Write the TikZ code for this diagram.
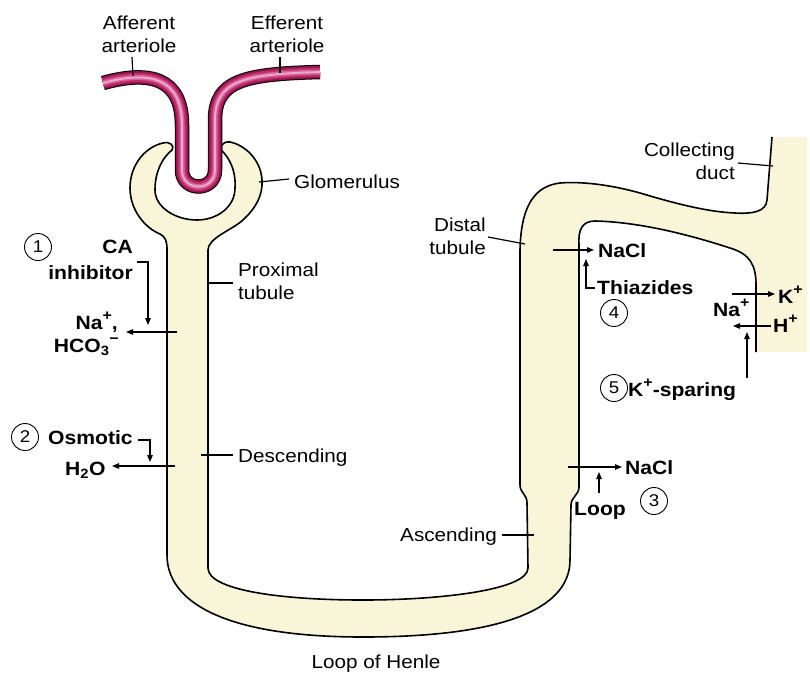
\documentclass[tikz,border=0pt]{standalone}
\usepackage{fontspec}
\setmainfont[FakeStretch=1.1]{Liberation Sans}
\usetikzlibrary{arrows.meta}
\definecolor{tubefill}{RGB}{249,245,217}
\definecolor{artA}{RGB}{150,20,75}
\definecolor{artB}{RGB}{190,45,110}
\definecolor{artC}{RGB}{215,100,155}
\definecolor{artD}{RGB}{236,170,204}

% ion charges set a little larger than \textsuperscript
\newcommand{\ionch}[1]{\raisebox{0.42em}{\fontsize{14.5}{14.5}\selectfont #1}}

% outline of the nephron wall, from the collecting duct round to its inner edge
\def\nephron{(772,137) -- (767,200)
 .. controls (766,212) and (752,214) .. (735,213)
 .. controls (710,212) and (680,205) .. (640,193)
 .. controls (615,186) and (585,181) .. (560,183)
 .. controls (535,186) and (521,205) .. (520,250)
 -- (520,485)
 .. controls (520,493) and (527,494) .. (527,503)
 -- (528,568)
 .. controls (528,590) and (440,600) .. (363,600)
 .. controls (280,600) and (208,590) .. (208,568)
 -- (208,250)
 .. controls (208,238) and (232,230) .. (243,220)
 .. controls (256,208) and (263,195) .. (262,180)
 .. controls (261,160) and (245,145) .. (230,142)
 .. controls (222,141) and (218,148) .. (224,153)
 .. controls (232,162) and (236,175) .. (235,188)
 .. controls (235,207) and (217,220) .. (197,220)
 .. controls (175,220) and (155,207) .. (155,190)
 .. controls (155,172) and (162,158) .. (172,150)
 .. controls (175,146) and (170,141) .. (163,143)
 .. controls (145,147) and (130,165) .. (130,188)
 .. controls (130,210) and (145,228) .. (160,234)
 .. controls (166,237) and (167,242) .. (167,250)
 -- (167,555)
 .. controls (167,600) and (220,637) .. (363,637)
 .. controls (500,637) and (570,610) .. (570,560)
 -- (571,505)
 .. controls (571,497) and (579,495) .. (579,487)
 -- (579,245)
 .. controls (578,230) and (582,221) .. (595,221)
 .. controls (640,222) and (690,235) .. (730,248)
 .. controls (750,254) and (756,265) .. (756,285)
 -- (756,352)}

% centre line of the afferent and efferent arterioles
\def\arteriole{(103,83) .. controls (150,70) and (182,78) .. (182,125)
 -- (182,170) .. controls (182,192) and (215,192) .. (215,170)
 -- (215,120) .. controls (215,80) and (245,74) .. (320,72)}

\begin{document}
\begin{tikzpicture}[x=1pt,y=-1pt,
  lbl/.style={font=\fontsize{18.8}{22.5}\selectfont, inner sep=0pt},
  blbl/.style={font=\fontsize{19.2}{24}\selectfont\bfseries, inner sep=0pt},
  wall/.style={line width=1.6pt, line join=round},
  lead/.style={line width=1.2pt},
  flow/.style={line width=1.2pt, -{Triangle[length=7pt,width=5.5pt]}},
  num/.style={circle, draw, line width=0.9pt, minimum size=27pt, inner sep=0pt,
              font=\fontsize{17}{17}\selectfont},
]
\useasboundingbox (0,0) rectangle (810,673);

% nephron and collecting duct
\fill[tubefill] \nephron -- (807,352) -- (807,137) -- cycle;
\draw[wall] \nephron;

% arterioles, shaded by stacked strokes
\draw[black, line width=14.5pt] \arteriole;
\draw[artA, line width=12.5pt] \arteriole;
\draw[artB, line width=9pt] \arteriole;
\draw[artC, line width=5pt] \arteriole;
\draw[artD, line width=1.8pt] \arteriole;

% anatomical labels
\node[lbl, align=center, anchor=north] (aff) at (139,16) {Afferent\\arteriole};
\node[lbl, align=center, anchor=north] (eff) at (287,16) {Efferent\\arteriole};
\node[lbl, anchor=base west] (glom) at (294,188) {Glomerulus};
\node[lbl, align=left, anchor=north west] (prox) at (238,263) {Proximal\\tubule};
\node[lbl, anchor=base west] (desc) at (238,462) {Descending};
\node[lbl, anchor=base east] (asc) at (497,541) {Ascending};
\node[lbl, align=right, anchor=north east] (dist) at (486,218) {Distal\\tubule};
\node[lbl, align=right, anchor=north east] (coll) at (735,143) {Collecting\\duct};
\node[lbl, anchor=base] (henle) at (376,668) {Loop of Henle};

\coordinate (affW) at (133,76);  \coordinate (affT) at (132,57);
\coordinate (effW) at (280,73);  \coordinate (effT) at (280,57);
\coordinate (glomW) at (259,182); \coordinate (glomT) at (289,179);
\coordinate (proxW) at (207,283); \coordinate (proxT) at (233,283);
\coordinate (descW) at (201,455); \coordinate (descT) at (233,455);
\coordinate (ascW) at (534,535);  \coordinate (ascT) at (502,535);
\coordinate (distW) at (525,244); \coordinate (distT) at (488,237);
\coordinate (collW) at (773,166); \coordinate (collT) at (738,163);
\draw[lead] (affT) -- (affW);
\draw[lead] (effT) -- (effW);
\draw[lead] (glomW) -- (glomT);
\draw[lead] (proxW) -- (proxT);
\draw[lead] (descW) -- (descT);
\draw[lead] (ascT) -- (ascW);
\draw[lead] (distT) -- (distW);
\draw[lead] (collT) -- (collW);

% 1: carbonic anhydrase inhibitor
\node[num] (n1) at (38,247) {1};
\node[blbl, align=right, anchor=north east, font=\fontsize{19.2}{26}\selectfont\bfseries] (ca) at (133,240) {CA\\inhibitor};
\node[blbl, anchor=base east] (na1) at (118,329) {Na\ionch{+},};
\node[blbl, anchor=base east] (hco) at (119,352) {HCO\textsubscript{3}\ionch{−}};
\coordinate (caA) at (137,262); \coordinate (caB) at (148,262); \coordinate (caC) at (148,325);
\draw[flow] (caA) -- (caB) -- (caC);
\coordinate (pr1) at (177,332); \coordinate (pr1T) at (126,332);
\draw[flow] (pr1) -- (pr1T);

% 2: osmotic diuretic
\node[num] (n2) at (25,437) {2};
\node[blbl, anchor=base west] (osm) at (48,444) {Osmotic};
\node[blbl, anchor=base west] (h2o) at (65,475) {H\textsubscript{2}O};
\coordinate (osA) at (138,440); \coordinate (osB) at (150,440); \coordinate (osC) at (150,462);
\draw[flow] (osA) -- (osB) -- (osC);
\coordinate (pr2) at (175,466); \coordinate (pr2T) at (112,466);
\draw[flow] (pr2) -- (pr2T);

% 3: loop diuretic
\node[num] (n3) at (654,501) {3};
\node[blbl, anchor=base west] (nacl3) at (625,474) {NaCl};
\node[blbl, anchor=base west] (loopd) at (574,515) {Loop};
\coordinate (as3) at (568,467); \coordinate (as3T) at (622,467);
\draw[flow] (as3) -- (as3T);
\coordinate (lpA) at (599,493); \coordinate (lpB) at (599,472);
\draw[flow] (lpA) -- (lpB);

% 4: thiazides
\node[num] (n4) at (614,313) {4};
\node[blbl, anchor=base west] (nacl4) at (598,257) {NaCl};
\node[blbl, anchor=base west] (thia) at (597,294) {Thiazides};
\coordinate (dt4) at (553,250); \coordinate (dt4T) at (594,250);
\draw[flow] (dt4) -- (dt4T);
\coordinate (thA) at (595,288); \coordinate (thB) at (586,288); \coordinate (thC) at (586,259);
\draw[flow] (thA) -- (thB) -- (thC);

% 5: potassium-sparing diuretics
\node[num] (n5) at (614,388) {5};
\node[blbl, anchor=base west] (kspar) at (628,396) {K\ionch{+}-sparing};
\node[blbl, anchor=base west] (na5) at (713,316) {Na\ionch{+}};
\node[blbl, anchor=base west] (kp) at (778,303) {K\ionch{+}};
\node[blbl, anchor=base west] (hp) at (773,332) {H\ionch{+}};
\coordinate (kA) at (732,294); \coordinate (kB) at (775,294);
\draw[flow] (kA) -- (kB);
\coordinate (hA) at (771,326); \coordinate (hB) at (733,326);
\draw[flow] (hA) -- (hB);
\coordinate (spA) at (747,378); \coordinate (spB) at (747,332);
\draw[flow] (spA) -- (spB);
\end{tikzpicture}
\end{document}
